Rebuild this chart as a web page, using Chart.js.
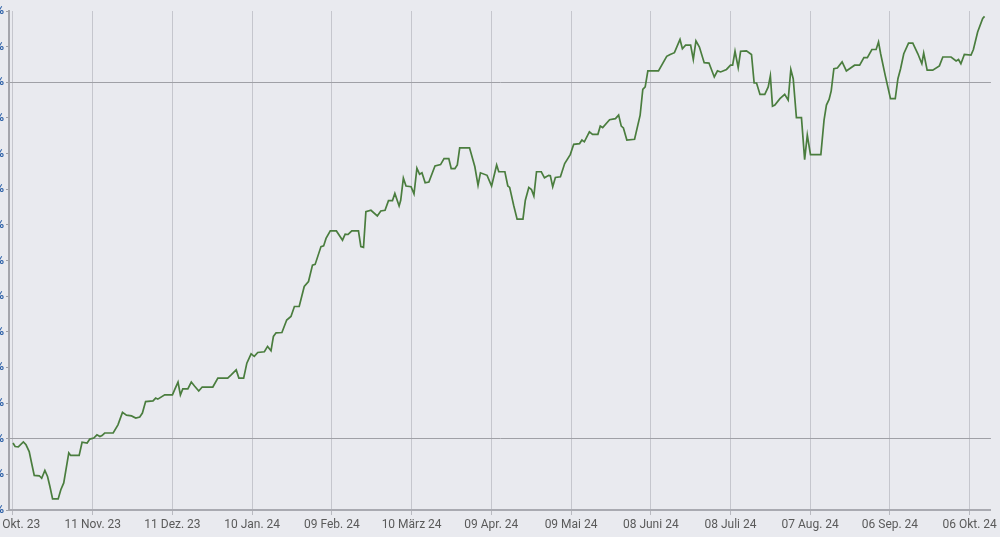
<!DOCTYPE html>
<html>
<head>
<meta charset="utf-8">
<script src="https://cdn.jsdelivr.net/npm/chart.js@4.4.1/dist/chart.umd.min.js"></script>
<style>
  html, body { margin: 0; padding: 0; width: 1000px; height: 537px; overflow: hidden; background: #e9eaef; }
  #wrap { position: absolute; left: -31px; top: 0; width: 1031px; height: 537px; }
</style>
</head>
<body>
<div id="wrap"><canvas id="c" width="1031" height="537"></canvas></div>
<script>
// Days since 12 Okt. 2023
const days = [
  0,0.8,2.0,3.9,4.9,6.1,7.0,8.0,9.9,10.8,12.0,13.0,13.9,14.9,17.0,18.0,19.1,21.0,21.7,24.9,26.0,27.9,28.9,30.4,31.6,32.7,
  33.5,34.5,37.7,39.5,41.2,42.7,44.6,46.2,47.7,48.7,49.9,52.7,53.7,54.5,57.1,60.0,60.8,62.1,63.0,63.9,65.8,67.1,68.3,69.9,71.2,75.2,77.1,80.8,82.1,84.0,85.0,86.8,88.0,89.6,90.8,92.1,94.6,95.8,97.1,98.0,99.0,101.2,
  103.0,104.6,105.9,107.7,109.6,111.2,112.7,113.7,115.9,116.9,117.8,119.4,121.7,124.0,125.0,126.1,127.5,130.0,130.9,131.9,132.8,134.7,137.1,138.4,140.0,141.3,142.8,143.7,145.3,145.9,146.9,147.9,149.8,150.9,152.0,153.0,153.9,155.1,156.5,
  158.8,160.9,162.2,164.0,164.9,166.3,167.2,168.1,171.8,173.8,175.0,175.9,178.4,180.1,182.0,182.8,185.1,186.2,186.9,188.4,189.7,191.9,192.8,194.1,195.1,196.0,197.0,198.8,200.0,201.6,202.2,203.1,204.1,206.0,207.6,209.7,211.0,213.2,214.1,215.0,216.9,218.1,220.1,221.0,221.9,224.5,226.7,227.9,228.9,229.7,231.0,233.9,236.0,237.0,
  237.9,238.9,242.9,246.0,247.3,248.9,251.0,251.9,253.1,255.0,256.0,257.0,258.3,260.1,261.9,263.9,265.1,266.3,268.5,270.0,270.8,271.7,272.9,273.8,276.0,277.9,278.9,279.8,281.1,282.9,284.2,285.0,285.8,286.7,288.6,290.4,291.7,292.7,293.6,294.8,296.7,297.9,298.9,300.1,304.0,305.2,306.1,307.1,307.9,308.9,310.2,312.0,313.6,316.7,318.6,320.2,321.5,323.2,324.8,325.7,326.5,328.2,330.2,332.0,333.0,334.0,335.2,337.0,338.6,340.5,342.0,342.7,344.0,346.1,348.6,349.9,353.0,354.9,355.8,356.7,358.0,360.5,361.4,363.0,364.9,365.6
];
// Performance values (%)
const values = [
  -1.2,-2.2,-2.3,-0.9,-1.7,-3.6,-6.8,-10.3,-10.4,-11.1,-8.9,-10.6,-13.4,-16.9,-16.9,-14.3,-12.4,-4.0,-4.7,-4.7,-1.0,-1.2,-0.1,0.2,1.1,0.6,
  0.9,1.6,1.6,3.9,7.4,6.6,6.4,5.8,6.1,7.2,10.4,10.6,11.4,11.1,12.3,12.3,13.7,15.9,12.3,14.0,14.0,15.9,14.8,13.4,14.5,14.5,17.0,17.0,17.9,19.3,17.0,17.0,21.2,23.8,23.1,24.2,24.4,25.9,24.7,28.7,29.7,29.8,
  33.3,34.3,37.1,37.1,42.7,44.1,48.7,48.9,53.9,54.1,56.2,58.3,58.3,55.7,57.4,57.3,58.3,58.3,53.9,53.7,63.7,64.1,62.5,63.9,64.1,66.8,66.8,68.8,65.3,66.9,73.1,70.9,70.7,68.7,75.9,74.2,74.6,71.8,72.0,
  76.5,76.9,78.6,78.6,75.8,75.8,76.8,81.6,81.6,76.3,71.1,74.6,73.9,70.9,76.8,74.9,74.9,70.9,70.5,65.5,61.6,61.6,66.9,70.5,69.9,68.1,74.9,74.9,73.2,73.9,73.8,70.7,73.3,73.5,77.2,79.7,82.6,82.8,83.8,83.3,86.1,85.4,85.4,87.7,87.3,89.5,89.8,90.8,87.7,87.2,83.8,84.0,90.8,98.0,
  98.7,103.2,103.2,107.3,107.8,108.3,112.0,109.4,110.4,110.4,106.4,111.6,109.9,105.5,105.4,101.5,103.2,102.9,103.6,104.8,104.8,108.7,104.1,108.7,108.8,107.8,99.8,99.8,96.6,96.6,98.7,101.8,93.3,93.6,95.4,96.6,95.0,103.6,101.0,90.1,90.1,78.3,85.2,79.7,79.7,89.4,93.6,95.2,97.6,103.8,104.0,105.7,103.2,104.8,104.8,106.9,106.9,109.2,109.2,111.3,108.0,102.0,95.4,95.4,101.0,103.8,108.0,111.0,111.0,108.0,105.2,108.2,103.4,103.4,104.6,107.1,107.1,106.0,106.4,105.2,107.8,107.6,109.2,114.1,117.9,118.5
];
const tickDays = [0,30,60,90,120,150,180,210,240,270,300,330,360];
const tickLabels = ["12 Okt. 23","11 Nov. 23","11 Dez. 23","10 Jan. 24","09 Feb. 24","10 März 24","09 Apr. 24","09 Mai 24","08 Juni 24","08 Juli 24","07 Aug. 24","06 Sep. 24","06 Okt. 24"];
const yTicks = [-20,-10,0,10,20,30,40,50,60,70,80,90,100,110,120];
const yGridValues = [0,100];

const points = days.map((d, i) => ({ x: d, y: values[i] }));

new Chart(document.getElementById('c'), {
  type: 'line',
  data: {
    datasets: [{
      data: points,
      borderColor: '#4a7d3e',
      borderWidth: 1.7,
      pointRadius: 0,
      tension: 0,
      fill: false
    }]
  },
  options: {
    responsive: false,
    animation: false,
    devicePixelRatio: 1,
    layout: { padding: { left: 0, right: 7, top: 11, bottom: 0 } },
    plugins: { legend: { display: false }, tooltip: { enabled: false } },
    scales: {
      x: {
        type: 'linear',
        min: -1.5,
        max: 368,
        afterBuildTicks: (scale) => { scale.ticks = tickDays.map(v => ({ value: v })); },
        afterFit: (scale) => { scale.height = 27; },
        ticks: {
          autoSkip: false,
          maxRotation: 0,
          padding: 3,
          color: '#5a5a5a',
          font: { family: 'Roboto', size: 12 },
          callback: (v) => { const i = tickDays.indexOf(v); return i >= 0 ? tickLabels[i] : ''; }
        },
        grid: { color: '#c5c6cd', lineWidth: 1, tickLength: 5, tickColor: '#b9bac1' },
        border: { display: true, color: '#a9aab1', width: 2 }
      },
      y: {
        type: 'linear',
        min: -20,
        max: 120,
        afterBuildTicks: (scale) => { scale.ticks = yTicks.map(v => ({ value: v })); },
        afterFit: (scale) => { scale.width = 40; },
        ticks: {
          padding: 2,
          color: '#2f62a8',
          font: { family: 'Roboto', size: 12, weight: 'bold' },
          callback: (v) => v + ' %'
        },
        grid: {
          color: (ctx) => yGridValues.includes(ctx.tick && ctx.tick.value) ? '#9fa0a6' : 'rgba(0,0,0,0)',
          lineWidth: 1,
          tickLength: 3,
          tickColor: '#9fa0a6'
        },
        border: { display: true, color: '#a4a5ac', width: 2 }
      }
    }
  }
});
</script>
</body>
</html>
